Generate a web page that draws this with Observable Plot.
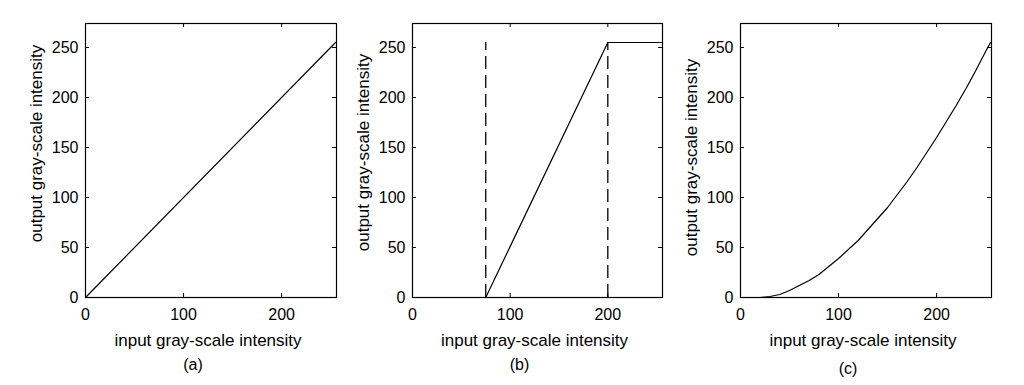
<!DOCTYPE html>
<html><head><meta charset="utf-8">
<script src="https://cdn.jsdelivr.net/npm/d3@7"></script>
<script src="https://cdn.jsdelivr.net/npm/@observablehq/plot@0.6"></script>
<style>
body{margin:0;background:#fff;}
#wrap{position:relative;width:1024px;height:385px;overflow:hidden;}
.panel{position:absolute;top:0;}
</style></head><body><div id="wrap"></div>
<script>
// Axis ticks and labels
const xTicks = [0, 100, 200];
const yTicks = [0, 50, 100, 150, 200, 250];
const xDomain = [0, 256];
const yDomain = [0, 274];
const xLabel = "input gray-scale intensity";
const yLabel = "output gray-scale intensity";
const captions = ["(a)", "(b)", "(c)"];

// (a) identity mapping
const aX = [0, 255];
const aY = [0, 255];

// (b) contrast stretching
const bX = [0, 75, 200, 255];
const bY = [0, 0, 255, 255];
const bDashX = [75, 200];
const bDashTop = 255;

// (c) power-law curve
const cX = [0, 10, 20, 30, 40, 50, 60, 70, 80, 90, 100, 110, 120, 130, 140, 150, 160, 170, 180, 190, 200, 210, 220, 230, 240, 250, 255];
const cY = [0, 0, 0, 1, 3, 7, 12, 17, 23, 31, 39, 48, 57, 68, 79, 90, 103, 116, 130, 145, 160, 176, 192, 209, 227, 246, 255];

const layout = [
  {left: 0,   width: 341, marginLeft: 85, marginRight: 5,  ylDy: -17, capDy: 67},
  {left: 341, width: 341, marginLeft: 71, marginRight: 20, ylDy: -8,  capDy: 67},
  {left: 682, width: 342, marginLeft: 58, marginRight: 33, ylDy: -3,  capDy: 71}
];

function common(i) {
  const L = layout[i];
  return [
    Plot.frame({stroke: "black", strokeWidth: 1.2}),
    Plot.axisX(xTicks, {tickSize: 0, tickPadding: 11, label: null}),
    Plot.axisY(yTicks, {tickSize: 0, tickPadding: 7, label: null}),
    Plot.ruleX(xTicks, {insetTop: 270, stroke: "black"}),
    Plot.ruleX(xTicks, {insetBottom: 270, stroke: "black"}),
    Plot.ruleY(yTicks, {x1: xDomain[0], x2: xDomain[0] + 4, stroke: "black"}),
    Plot.ruleY(yTicks, {x1: xDomain[1] - 4, x2: xDomain[1], stroke: "black"}),
    Plot.text([xLabel], {text: d => d, frameAnchor: "bottom", textAnchor: "middle", lineAnchor: "middle", dy: 43, dx: -3, fontSize: 17}),
    Plot.text([yLabel], {text: d => d, frameAnchor: "left", textAnchor: "middle", lineAnchor: "middle", rotate: -90, dx: -49, dy: L.ylDy, fontSize: 17}),
    Plot.text([captions[i]], {text: d => d, frameAnchor: "bottom", textAnchor: "middle", lineAnchor: "middle", dy: L.capDy, dx: -18, fontSize: 16})
  ];
}

const marks = [
  [Plot.line(aX, {x: aX, y: aY, stroke: "black", strokeWidth: 1.2})],
  [
    Plot.line(bX, {x: bX, y: bY, stroke: "black", strokeWidth: 1.2}),
    Plot.ruleX(bDashX, {y1: 0, y2: bDashTop, stroke: "black", strokeWidth: 1.3, strokeDasharray: "13,6"})
  ],
  [Plot.line(cX, {x: cX, y: cY, stroke: "black", strokeWidth: 1.2})]
];

const wrap = document.getElementById("wrap");
layout.forEach((L, i) => {
  const chart = Plot.plot({
    width: L.width,
    height: 385,
    marginTop: 23,
    marginBottom: 88,
    marginLeft: L.marginLeft,
    marginRight: L.marginRight,
    x: {domain: xDomain},
    y: {domain: yDomain},
    style: {fontFamily: "'Liberation Sans', Arial, sans-serif", fontSize: "16px", color: "black", background: "white", overflow: "visible"},
    marks: [...common(i), ...marks[i]]
  });
  const div = document.createElement("div");
  div.className = "panel";
  div.style.left = L.left + "px";
  div.appendChild(chart);
  wrap.appendChild(div);
});
</script>
</body></html>
